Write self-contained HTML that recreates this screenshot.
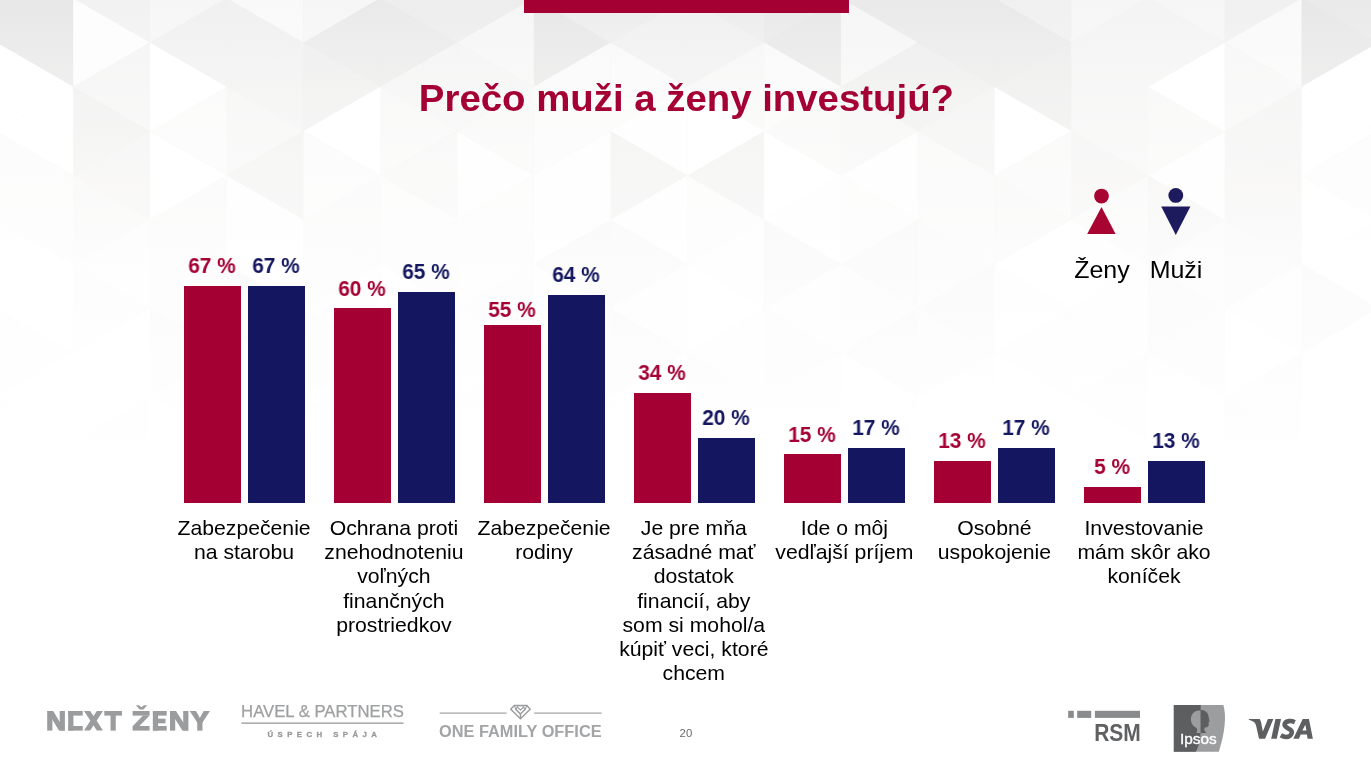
<!DOCTYPE html>
<html><head><meta charset="utf-8">
<style>
html,body{margin:0;padding:0;}
html{overflow:hidden;width:1371px;height:769px;}
body{width:1371px;height:769px;overflow:hidden;position:relative;background:#fff;font-family:"Liberation Sans",sans-serif;}
#bg{position:absolute;left:0;top:0;width:1371px;height:769px;}
.topbar{position:absolute;left:523.5px;top:0;width:325px;height:13px;background:#a50034;}
.title{position:absolute;left:0;width:1371px;top:77px;text-align:center;font-weight:bold;font-size:37px;line-height:44px;color:#a50034;white-space:nowrap;transform:scaleX(1.037);transform-origin:686.5px 0;margin-left:1.2px;}
.title,.val,.cat,.leg,#fg{will-change:transform;}
.bar{position:absolute;width:57px;}
.r{background:#a50034;}
.b{background:#14165f;}
.val{position:absolute;width:100px;text-align:center;font-weight:bold;font-size:21.3px;line-height:24px;white-space:nowrap;transform:scaleX(0.98);}
.val.r{background:none;color:#a50034;}
.val.b{background:none;color:#14165f;}
.cat{position:absolute;width:180px;text-align:center;font-size:20.4px;line-height:24.2px;color:#000;top:515.5px;white-space:nowrap;}
.cat span{display:inline-block;transform:scaleX(1.04);transform-origin:50% 0;}
.leg{position:absolute;font-size:24px;line-height:28px;color:#000;text-align:center;width:100px;white-space:nowrap;transform:scaleX(1.04);}
#fg{position:absolute;left:0;top:0;width:1371px;height:769px;}
</style></head><body>
<svg id="bg" viewBox="0 0 1371 769">
<defs><linearGradient id="g" x1="0" y1="0" x2="0" y2="1">
<stop offset="0" stop-color="#e7e7e7"/><stop offset="0.052" stop-color="#ebebeb"/><stop offset="0.13" stop-color="#f0f0ef"/><stop offset="0.195" stop-color="#f3f3f2"/><stop offset="0.26" stop-color="#f6f5f4"/><stop offset="0.325" stop-color="#f8f8f8"/><stop offset="0.39" stop-color="#fafafa"/><stop offset="0.52" stop-color="#fdfdfd"/><stop offset="0.6" stop-color="#ffffff"/><stop offset="1" stop-color="#ffffff"/>
</linearGradient></defs>
<rect width="1371" height="769" fill="url(#g)"/>
<g fill="#fff"><polygon points="-3.6,-46.2 -3.6,42.5 -80.3,-1.8" fill-opacity="0.72"/>
<polygon points="-3.6,42.5 -3.6,131.2 -80.3,86.8" fill-opacity="0.83"/>
<polygon points="-3.6,131.2 -3.6,219.8 -80.3,175.5" fill-opacity="0.52"/>
<polygon points="-3.6,219.8 -3.6,308.5 -80.3,264.1" fill-opacity="0.88"/>
<polygon points="-3.6,308.5 -3.6,397.1 -80.3,352.8" fill-opacity="0.59"/>
<polygon points="-3.6,397.1 -3.6,485.8 -80.3,441.4" fill-opacity="0.70"/>
<polygon points="-3.6,42.5 -3.6,131.2 73.2,86.8" fill-opacity="1.00"/>
<polygon points="73.2,86.8 73.2,175.5 -3.6,131.1" fill-opacity="1.00"/>
<polygon points="-3.6,131.2 -3.6,219.8 73.2,175.5" fill-opacity="0.75"/>
<polygon points="73.2,175.5 73.2,264.1 -3.6,219.8" fill-opacity="0.75"/>
<polygon points="-3.6,219.8 -3.6,308.5 73.2,264.1" fill-opacity="0.88"/>
<polygon points="73.2,264.1 73.2,352.8 -3.6,308.4" fill-opacity="0.89"/>
<polygon points="-3.6,308.5 -3.6,397.1 73.2,352.8" fill-opacity="0.61"/>
<polygon points="73.2,352.8 73.2,441.4 -3.6,397.1" fill-opacity="0.90"/>
<polygon points="-3.6,397.1 -3.6,485.8 73.2,441.4" fill-opacity="0.65"/>
<polygon points="73.2,441.4 73.2,530.1 -3.6,485.7" fill-opacity="0.88"/>
<polygon points="150.0,-46.2 150.0,42.5 73.2,-1.8" fill-opacity="0.45"/>
<polygon points="150.0,42.5 150.0,131.2 73.2,86.8" fill-opacity="0.50"/>
<polygon points="73.2,-1.8 73.2,86.8 150.0,42.5" fill-opacity="0.88"/>
<polygon points="150.0,131.2 150.0,219.8 73.2,175.5" fill-opacity="0.38"/>
<polygon points="73.2,86.8 73.2,175.5 150.0,131.1" fill-opacity="0.25"/>
<polygon points="150.0,219.8 150.0,308.5 73.2,264.1" fill-opacity="0.75"/>
<polygon points="73.2,175.5 73.2,264.1 150.0,219.8" fill-opacity="0.50"/>
<polygon points="150.0,308.5 150.0,397.1 73.2,352.8" fill-opacity="0.87"/>
<polygon points="73.2,264.1 73.2,352.8 150.0,308.4" fill-opacity="0.66"/>
<polygon points="150.0,397.1 150.0,485.8 73.2,441.4" fill-opacity="0.41"/>
<polygon points="73.2,352.8 73.2,441.4 150.0,397.1" fill-opacity="0.85"/>
<polygon points="73.2,441.4 73.2,530.1 150.0,485.7" fill-opacity="0.79"/>
<polygon points="150.0,-46.2 150.0,42.5 226.7,-1.8" fill-opacity="0.62"/>
<polygon points="226.7,-1.8 226.7,86.8 150.0,42.5" fill-opacity="0.38"/>
<polygon points="150.0,42.5 150.0,131.2 226.7,86.8" fill-opacity="1.00"/>
<polygon points="226.7,86.8 226.7,175.5 150.0,131.1" fill-opacity="0.75"/>
<polygon points="150.0,131.2 150.0,219.8 226.7,175.5" fill-opacity="1.00"/>
<polygon points="226.7,175.5 226.7,264.1 150.0,219.8" fill-opacity="0.62"/>
<polygon points="150.0,219.8 150.0,308.5 226.7,264.1" fill-opacity="0.62"/>
<polygon points="226.7,264.1 226.7,352.8 150.0,308.4" fill-opacity="0.53"/>
<polygon points="150.0,308.5 150.0,397.1 226.7,352.8" fill-opacity="0.33"/>
<polygon points="226.7,352.8 226.7,441.4 150.0,397.1" fill-opacity="0.56"/>
<polygon points="150.0,397.1 150.0,485.8 226.7,441.4" fill-opacity="0.68"/>
<polygon points="226.7,441.4 226.7,530.1 150.0,485.7" fill-opacity="0.31"/>
<polygon points="303.5,-46.2 303.5,42.5 226.7,-1.8" fill-opacity="0.75"/>
<polygon points="303.5,42.5 303.5,131.2 226.7,86.8" fill-opacity="0.38"/>
<polygon points="226.7,-1.8 226.7,86.8 303.5,42.5" fill-opacity="0.38"/>
<polygon points="303.5,131.2 303.5,219.8 226.7,175.5" fill-opacity="0.25"/>
<polygon points="226.7,86.8 226.7,175.5 303.5,131.1" fill-opacity="0.50"/>
<polygon points="303.5,219.8 303.5,308.5 226.7,264.1" fill-opacity="0.88"/>
<polygon points="226.7,175.5 226.7,264.1 303.5,219.8" fill-opacity="0.88"/>
<polygon points="303.5,308.5 303.5,397.1 226.7,352.8" fill-opacity="0.90"/>
<polygon points="226.7,264.1 226.7,352.8 303.5,308.4" fill-opacity="0.39"/>
<polygon points="303.5,397.1 303.5,485.8 226.7,441.4" fill-opacity="0.74"/>
<polygon points="226.7,352.8 226.7,441.4 303.5,397.1" fill-opacity="0.83"/>
<polygon points="226.7,441.4 226.7,530.1 303.5,485.7" fill-opacity="0.85"/>
<polygon points="303.5,-46.2 303.5,42.5 380.3,-1.8" fill-opacity="0.62"/>
<polygon points="380.3,-1.8 380.3,86.8 303.5,42.5" fill-opacity="0.12"/>
<polygon points="303.5,42.5 303.5,131.2 380.3,86.8" fill-opacity="0.25"/>
<polygon points="380.3,86.8 380.3,175.5 303.5,131.1" fill-opacity="1.00"/>
<polygon points="303.5,131.2 303.5,219.8 380.3,175.5" fill-opacity="0.75"/>
<polygon points="380.3,175.5 380.3,264.1 303.5,219.8" fill-opacity="0.62"/>
<polygon points="303.5,219.8 303.5,308.5 380.3,264.1" fill-opacity="0.62"/>
<polygon points="380.3,264.1 380.3,352.8 303.5,308.4" fill-opacity="0.73"/>
<polygon points="303.5,308.5 303.5,397.1 380.3,352.8" fill-opacity="0.41"/>
<polygon points="380.3,352.8 380.3,441.4 303.5,397.1" fill-opacity="0.81"/>
<polygon points="303.5,397.1 303.5,485.8 380.3,441.4" fill-opacity="0.56"/>
<polygon points="380.3,441.4 380.3,530.1 303.5,485.7" fill-opacity="0.53"/>
<polygon points="457.0,-46.2 457.0,42.5 380.3,-1.8" fill-opacity="0.25"/>
<polygon points="457.0,42.5 457.0,131.2 380.3,86.8" fill-opacity="0.50"/>
<polygon points="380.3,-1.8 380.3,86.8 457.0,42.5" fill-opacity="0.12"/>
<polygon points="457.0,131.2 457.0,219.8 380.3,175.5" fill-opacity="0.50"/>
<polygon points="380.3,86.8 380.3,175.5 457.0,131.1" fill-opacity="0.62"/>
<polygon points="457.0,219.8 457.0,308.5 380.3,264.1" fill-opacity="0.69"/>
<polygon points="380.3,175.5 380.3,264.1 457.0,219.8" fill-opacity="0.75"/>
<polygon points="457.0,308.5 457.0,397.1 380.3,352.8" fill-opacity="0.58"/>
<polygon points="380.3,264.1 380.3,352.8 457.0,308.4" fill-opacity="0.89"/>
<polygon points="457.0,397.1 457.0,485.8 380.3,441.4" fill-opacity="0.89"/>
<polygon points="380.3,352.8 380.3,441.4 457.0,397.1" fill-opacity="0.80"/>
<polygon points="380.3,441.4 380.3,530.1 457.0,485.7" fill-opacity="0.50"/>
<polygon points="457.1,-46.2 457.1,42.5 533.8,-1.8" fill-opacity="0.25"/>
<polygon points="533.8,-1.8 533.8,86.8 457.1,42.5" fill-opacity="0.62"/>
<polygon points="457.1,42.5 457.1,131.2 533.8,86.8" fill-opacity="0.50"/>
<polygon points="533.8,86.8 533.8,175.5 457.1,131.1" fill-opacity="0.62"/>
<polygon points="457.1,131.2 457.1,219.8 533.8,175.5" fill-opacity="0.88"/>
<polygon points="533.8,175.5 533.8,264.1 457.1,219.8" fill-opacity="0.75"/>
<polygon points="457.1,219.8 457.1,308.5 533.8,264.1" fill-opacity="0.75"/>
<polygon points="533.8,264.1 533.8,352.8 457.1,308.4" fill-opacity="0.66"/>
<polygon points="457.1,308.5 457.1,397.1 533.8,352.8" fill-opacity="0.73"/>
<polygon points="533.8,352.8 533.8,441.4 457.1,397.1" fill-opacity="0.56"/>
<polygon points="457.1,397.1 457.1,485.8 533.8,441.4" fill-opacity="0.64"/>
<polygon points="533.8,441.4 533.8,530.1 457.1,485.7" fill-opacity="0.74"/>
<polygon points="610.6,-46.2 610.6,42.5 533.8,-1.8" fill-opacity="0.25"/>
<polygon points="610.6,42.5 610.6,131.2 533.8,86.8" fill-opacity="0.75"/>
<polygon points="610.6,131.2 610.6,219.8 533.8,175.5" fill-opacity="0.88"/>
<polygon points="533.8,86.8 533.8,175.5 610.6,131.1" fill-opacity="0.75"/>
<polygon points="610.6,219.8 610.6,308.5 533.8,264.1" fill-opacity="0.43"/>
<polygon points="533.8,175.5 533.8,264.1 610.6,219.8" fill-opacity="0.88"/>
<polygon points="610.6,308.5 610.6,397.1 533.8,352.8" fill-opacity="0.49"/>
<polygon points="533.8,264.1 533.8,352.8 610.6,308.4" fill-opacity="0.77"/>
<polygon points="610.6,397.1 610.6,485.8 533.8,441.4" fill-opacity="0.57"/>
<polygon points="533.8,352.8 533.8,441.4 610.6,397.1" fill-opacity="0.60"/>
<polygon points="533.8,441.4 533.8,530.1 610.6,485.7" fill-opacity="0.38"/>
<polygon points="610.6,-46.2 610.6,42.5 687.4,-1.8" fill-opacity="0.25"/>
<polygon points="687.4,-1.8 687.4,86.8 610.6,42.5" fill-opacity="0.38"/>
<polygon points="610.6,42.5 610.6,131.2 687.4,86.8" fill-opacity="0.75"/>
<polygon points="687.4,86.8 687.4,175.5 610.6,131.1" fill-opacity="0.88"/>
<polygon points="610.6,131.2 610.6,219.8 687.4,175.5" fill-opacity="0.25"/>
<polygon points="687.4,175.5 687.4,264.1 610.6,219.8" fill-opacity="0.88"/>
<polygon points="610.6,219.8 610.6,308.5 687.4,264.1" fill-opacity="0.47"/>
<polygon points="687.4,264.1 687.4,352.8 610.6,308.4" fill-opacity="0.75"/>
<polygon points="610.6,308.5 610.6,397.1 687.4,352.8" fill-opacity="0.31"/>
<polygon points="687.4,352.8 687.4,441.4 610.6,397.1" fill-opacity="0.85"/>
<polygon points="610.6,397.1 610.6,485.8 687.4,441.4" fill-opacity="0.66"/>
<polygon points="687.4,441.4 687.4,530.1 610.6,485.7" fill-opacity="0.45"/>
<polygon points="764.1,-46.2 764.1,42.5 687.4,-1.8" fill-opacity="0.25"/>
<polygon points="764.1,42.5 764.1,131.2 687.4,86.8" fill-opacity="0.62"/>
<polygon points="687.4,-1.8 687.4,86.8 764.1,42.5" fill-opacity="0.38"/>
<polygon points="764.1,131.2 764.1,219.8 687.4,175.5" fill-opacity="0.25"/>
<polygon points="687.4,86.8 687.4,175.5 764.1,131.1" fill-opacity="1.00"/>
<polygon points="764.1,219.8 764.1,308.5 687.4,264.1" fill-opacity="0.83"/>
<polygon points="687.4,175.5 687.4,264.1 764.1,219.8" fill-opacity="0.75"/>
<polygon points="764.1,308.5 764.1,397.1 687.4,352.8" fill-opacity="0.62"/>
<polygon points="687.4,264.1 687.4,352.8 764.1,308.4" fill-opacity="0.90"/>
<polygon points="764.1,397.1 764.1,485.8 687.4,441.4" fill-opacity="0.51"/>
<polygon points="687.4,352.8 687.4,441.4 764.1,397.1" fill-opacity="0.45"/>
<polygon points="687.4,441.4 687.4,530.1 764.1,485.7" fill-opacity="0.57"/>
<polygon points="764.1,-46.2 764.1,42.5 840.9,-1.8" fill-opacity="0.12"/>
<polygon points="764.1,42.5 764.1,131.2 840.9,86.8" fill-opacity="0.75"/>
<polygon points="840.9,86.8 840.9,175.5 764.1,131.1" fill-opacity="0.62"/>
<polygon points="764.1,131.2 764.1,219.8 840.9,175.5" fill-opacity="1.00"/>
<polygon points="840.9,175.5 840.9,264.1 764.1,219.8" fill-opacity="0.88"/>
<polygon points="764.1,219.8 764.1,308.5 840.9,264.1" fill-opacity="0.38"/>
<polygon points="840.9,264.1 840.9,352.8 764.1,308.4" fill-opacity="0.73"/>
<polygon points="764.1,308.5 764.1,397.1 840.9,352.8" fill-opacity="0.49"/>
<polygon points="840.9,352.8 840.9,441.4 764.1,397.1" fill-opacity="0.55"/>
<polygon points="764.1,397.1 764.1,485.8 840.9,441.4" fill-opacity="0.56"/>
<polygon points="840.9,441.4 840.9,530.1 764.1,485.7" fill-opacity="0.64"/>
<polygon points="917.7,-46.2 917.7,42.5 840.9,-1.8" fill-opacity="0.12"/>
<polygon points="917.7,42.5 917.7,131.2 840.9,86.8" fill-opacity="0.25"/>
<polygon points="840.9,-1.8 840.9,86.8 917.7,42.5" fill-opacity="0.62"/>
<polygon points="917.7,131.2 917.7,219.8 840.9,175.5" fill-opacity="0.88"/>
<polygon points="840.9,86.8 840.9,175.5 917.7,131.1" fill-opacity="0.50"/>
<polygon points="917.7,219.8 917.7,308.5 840.9,264.1" fill-opacity="0.40"/>
<polygon points="840.9,175.5 840.9,264.1 917.7,219.8" fill-opacity="0.75"/>
<polygon points="917.7,308.5 917.7,397.1 840.9,352.8" fill-opacity="0.33"/>
<polygon points="840.9,264.1 840.9,352.8 917.7,308.4" fill-opacity="0.63"/>
<polygon points="917.7,397.1 917.7,485.8 840.9,441.4" fill-opacity="0.51"/>
<polygon points="840.9,352.8 840.9,441.4 917.7,397.1" fill-opacity="0.89"/>
<polygon points="840.9,441.4 840.9,530.1 917.7,485.7" fill-opacity="0.49"/>
<polygon points="917.7,-46.2 917.7,42.5 994.4,-1.8" fill-opacity="0.12"/>
<polygon points="994.4,-1.8 994.4,86.8 917.7,42.5" fill-opacity="0.12"/>
<polygon points="917.7,42.5 917.7,131.2 994.4,86.8" fill-opacity="0.25"/>
<polygon points="994.4,86.8 994.4,175.5 917.7,131.1" fill-opacity="0.38"/>
<polygon points="917.7,131.2 917.7,219.8 994.4,175.5" fill-opacity="0.62"/>
<polygon points="994.4,175.5 994.4,264.1 917.7,219.8" fill-opacity="0.62"/>
<polygon points="917.7,219.8 917.7,308.5 994.4,264.1" fill-opacity="0.52"/>
<polygon points="994.4,264.1 994.4,352.8 917.7,308.4" fill-opacity="0.30"/>
<polygon points="917.7,308.5 917.7,397.1 994.4,352.8" fill-opacity="0.41"/>
<polygon points="994.4,352.8 994.4,441.4 917.7,397.1" fill-opacity="0.75"/>
<polygon points="917.7,397.1 917.7,485.8 994.4,441.4" fill-opacity="0.68"/>
<polygon points="994.4,441.4 994.4,530.1 917.7,485.7" fill-opacity="0.51"/>
<polygon points="1071.2,-46.2 1071.2,42.5 994.4,-1.8" fill-opacity="0.38"/>
<polygon points="1071.2,42.5 1071.2,131.2 994.4,86.8" fill-opacity="0.18"/>
<polygon points="994.4,-1.8 994.4,86.8 1071.2,42.5" fill-opacity="0.12"/>
<polygon points="1071.2,131.2 1071.2,219.8 994.4,175.5" fill-opacity="0.62"/>
<polygon points="994.4,86.8 994.4,175.5 1071.2,131.1" fill-opacity="1.00"/>
<polygon points="1071.2,219.8 1071.2,308.5 994.4,264.1" fill-opacity="0.91"/>
<polygon points="994.4,175.5 994.4,264.1 1071.2,219.8" fill-opacity="0.50"/>
<polygon points="1071.2,308.5 1071.2,397.1 994.4,352.8" fill-opacity="0.64"/>
<polygon points="994.4,264.1 994.4,352.8 1071.2,308.4" fill-opacity="0.82"/>
<polygon points="1071.2,397.1 1071.2,485.8 994.4,441.4" fill-opacity="0.85"/>
<polygon points="994.4,352.8 994.4,441.4 1071.2,397.1" fill-opacity="0.89"/>
<polygon points="994.4,441.4 994.4,530.1 1071.2,485.7" fill-opacity="0.44"/>
<polygon points="1071.2,-46.2 1071.2,42.5 1148.0,-1.8" fill-opacity="0.62"/>
<polygon points="1148.0,-1.8 1148.0,86.8 1071.2,42.5" fill-opacity="0.50"/>
<polygon points="1071.2,42.5 1071.2,131.2 1148.0,86.8" fill-opacity="0.50"/>
<polygon points="1148.0,86.8 1148.0,175.5 1071.2,131.1" fill-opacity="0.50"/>
<polygon points="1071.2,131.2 1071.2,219.8 1148.0,175.5" fill-opacity="0.38"/>
<polygon points="1148.0,175.5 1148.0,264.1 1071.2,219.8" fill-opacity="0.62"/>
<polygon points="1071.2,219.8 1071.2,308.5 1148.0,264.1" fill-opacity="0.84"/>
<polygon points="1148.0,264.1 1148.0,352.8 1071.2,308.4" fill-opacity="0.77"/>
<polygon points="1071.2,308.5 1071.2,397.1 1148.0,352.8" fill-opacity="0.68"/>
<polygon points="1148.0,352.8 1148.0,441.4 1071.2,397.1" fill-opacity="0.38"/>
<polygon points="1071.2,397.1 1071.2,485.8 1148.0,441.4" fill-opacity="0.87"/>
<polygon points="1148.0,441.4 1148.0,530.1 1071.2,485.7" fill-opacity="0.64"/>
<polygon points="1224.8,-46.2 1224.8,42.5 1148.0,-1.8" fill-opacity="0.62"/>
<polygon points="1224.8,42.5 1224.8,131.2 1148.0,86.8" fill-opacity="1.00"/>
<polygon points="1148.0,-1.8 1148.0,86.8 1224.8,42.5" fill-opacity="0.50"/>
<polygon points="1224.8,131.2 1224.8,219.8 1148.0,175.5" fill-opacity="0.88"/>
<polygon points="1148.0,86.8 1148.0,175.5 1224.8,131.1" fill-opacity="0.62"/>
<polygon points="1224.8,219.8 1224.8,308.5 1148.0,264.1" fill-opacity="0.58"/>
<polygon points="1148.0,175.5 1148.0,264.1 1224.8,219.8" fill-opacity="0.37"/>
<polygon points="1224.8,308.5 1224.8,397.1 1148.0,352.8" fill-opacity="0.41"/>
<polygon points="1148.0,264.1 1148.0,352.8 1224.8,308.4" fill-opacity="0.39"/>
<polygon points="1224.8,397.1 1224.8,485.8 1148.0,441.4" fill-opacity="0.75"/>
<polygon points="1148.0,352.8 1148.0,441.4 1224.8,397.1" fill-opacity="0.67"/>
<polygon points="1148.0,441.4 1148.0,530.1 1224.8,485.7" fill-opacity="0.70"/>
<polygon points="1224.8,-46.2 1224.8,42.5 1301.5,-1.8" fill-opacity="0.38"/>
<polygon points="1301.5,-1.8 1301.5,86.8 1224.8,42.5" fill-opacity="0.75"/>
<polygon points="1224.8,42.5 1224.8,131.2 1301.5,86.8" fill-opacity="0.62"/>
<polygon points="1301.5,86.8 1301.5,175.5 1224.8,131.1" fill-opacity="0.38"/>
<polygon points="1224.8,131.2 1224.8,219.8 1301.5,175.5" fill-opacity="0.38"/>
<polygon points="1301.5,175.5 1301.5,264.1 1224.8,219.8" fill-opacity="0.38"/>
<polygon points="1224.8,219.8 1224.8,308.5 1301.5,264.1" fill-opacity="0.45"/>
<polygon points="1301.5,264.1 1301.5,352.8 1224.8,308.4" fill-opacity="0.75"/>
<polygon points="1224.8,308.5 1224.8,397.1 1301.5,352.8" fill-opacity="0.88"/>
<polygon points="1301.5,352.8 1301.5,441.4 1224.8,397.1" fill-opacity="0.37"/>
<polygon points="1224.8,397.1 1224.8,485.8 1301.5,441.4" fill-opacity="0.33"/>
<polygon points="1301.5,441.4 1301.5,530.1 1224.8,485.7" fill-opacity="0.83"/>
<polygon points="1378.3,-46.2 1378.3,42.5 1301.5,-1.8" fill-opacity="0.12"/>
<polygon points="1378.3,42.5 1378.3,131.2 1301.5,86.8" fill-opacity="1.00"/>
<polygon points="1378.3,131.2 1378.3,219.8 1301.5,175.5" fill-opacity="0.82"/>
<polygon points="1301.5,86.8 1301.5,175.5 1378.3,131.1" fill-opacity="1.00"/>
<polygon points="1378.3,219.8 1378.3,308.5 1301.5,264.1" fill-opacity="0.88"/>
<polygon points="1301.5,175.5 1301.5,264.1 1378.3,219.8" fill-opacity="0.93"/>
<polygon points="1378.3,308.5 1378.3,397.1 1301.5,352.8" fill-opacity="0.93"/>
<polygon points="1301.5,264.1 1301.5,352.8 1378.3,308.4" fill-opacity="0.38"/>
<polygon points="1378.3,397.1 1378.3,485.8 1301.5,441.4" fill-opacity="0.81"/>
<polygon points="1301.5,352.8 1301.5,441.4 1378.3,397.1" fill-opacity="0.78"/>
<polygon points="1301.5,441.4 1301.5,530.1 1378.3,485.7" fill-opacity="0.78"/></g>
</svg>
<div class="topbar"></div>
<div class="title">Prečo muži a ženy investujú?</div>
<div class="bar r" style="left:184px;top:285.9px;height:216.9px"></div>
<div class="val r" style="left:161.6px;top:254.2px">67 %</div>
<div class="bar b" style="left:248px;top:285.9px;height:216.9px"></div>
<div class="val b" style="left:225.6px;top:254.2px">67 %</div>
<div class="cat" style="left:153.9px"><span>Zabezpečenie<br>na starobu</span></div>
<div class="bar r" style="left:334px;top:308.0px;height:194.8px"></div>
<div class="val r" style="left:311.6px;top:277.0px">60 %</div>
<div class="bar b" style="left:398px;top:292.0px;height:210.8px"></div>
<div class="val b" style="left:375.6px;top:260.2px">65 %</div>
<div class="cat" style="left:303.9px"><span>Ochrana proti<br>znehodnoteniu<br>voľných<br>finančných<br>prostriedkov</span></div>
<div class="bar r" style="left:484px;top:325.2px;height:177.6px"></div>
<div class="val r" style="left:461.6px;top:298.1px">55 %</div>
<div class="bar b" style="left:548px;top:295.1px;height:207.7px"></div>
<div class="val b" style="left:525.6px;top:263.2px">64 %</div>
<div class="cat" style="left:453.9px"><span>Zabezpečenie<br>rodiny</span></div>
<div class="bar r" style="left:634px;top:393.1px;height:109.7px"></div>
<div class="val r" style="left:611.6px;top:361.1px">34 %</div>
<div class="bar b" style="left:698px;top:438.0px;height:64.8px"></div>
<div class="val b" style="left:675.6px;top:406.2px">20 %</div>
<div class="cat" style="left:603.9px"><span>Je pre mňa<br>zásadné mať<br>dostatok<br>financií, aby<br>som si mohol/a<br>kúpiť veci, ktoré<br>chcem</span></div>
<div class="bar r" style="left:784px;top:454.0px;height:48.8px"></div>
<div class="val r" style="left:761.6px;top:423.1px">15 %</div>
<div class="bar b" style="left:848px;top:447.9px;height:54.9px"></div>
<div class="val b" style="left:825.6px;top:416.4px">17 %</div>
<div class="cat" style="left:753.9px"><span>Ide o môj<br>vedľajší príjem</span></div>
<div class="bar r" style="left:934px;top:461.2px;height:41.6px"></div>
<div class="val r" style="left:911.6px;top:429.2px">13 %</div>
<div class="bar b" style="left:998px;top:447.9px;height:54.9px"></div>
<div class="val b" style="left:975.6px;top:416.4px">17 %</div>
<div class="cat" style="left:903.9px"><span>Osobné<br>uspokojenie</span></div>
<div class="bar r" style="left:1084px;top:487.0px;height:15.8px"></div>
<div class="val r" style="left:1061.6px;top:455.1px">5 %</div>
<div class="bar b" style="left:1148px;top:461.2px;height:41.6px"></div>
<div class="val b" style="left:1125.6px;top:429.2px">13 %</div>
<div class="cat" style="left:1053.9px"><span>Investovanie<br>mám skôr ako<br>koníček</span></div>
<div class="leg" style="left:1051.6px;top:256.4px">Ženy</div>
<div class="leg" style="left:1125.9px;top:256.4px">Muži</div>
<svg id="fg" viewBox="0 0 1371 769">
<!-- legend icons -->
<circle cx="1101.5" cy="196.1" r="7.4" fill="#a70431"/>
<polygon points="1101.5,206.9 1115.6,234 1087.2,234" fill="#a70431"/>
<circle cx="1175.8" cy="195.4" r="7.4" fill="#1d1a5d"/>
<polygon points="1161.2,206.5 1190.4,206.5 1175.8,235" fill="#1d1a5d"/>
<g fill="#9b9c9e"><rect x="47.20" y="711.00" width="5.20" height="19.60"/><rect x="59.70" y="711.00" width="5.20" height="19.60"/><polygon points="47.20,711.00 53.18,711.00 64.90,730.60 58.92,730.60"/><rect x="68.20" y="711.00" width="5.20" height="19.60"/><rect x="68.20" y="711.00" width="14.50" height="4.60"/><rect x="68.20" y="726.00" width="14.50" height="4.60"/><polygon points="84.00,711.00 90.20,711.00 103.00,730.60 96.80,730.60"/><polygon points="103.00,711.00 96.80,711.00 84.00,730.60 90.20,730.60"/><rect x="104.30" y="711.00" width="17.70" height="4.60"/><rect x="110.55" y="711.00" width="5.20" height="19.60"/><rect x="132.60" y="711.00" width="17.00" height="4.60"/><rect x="132.60" y="726.00" width="17.00" height="4.60"/><polygon points="143.00,715.40 149.60,715.40 139.20,726.20 132.60,726.20"/><polygon points="135.90,705.20 138.90,705.20 141.50,707.30 144.10,705.20 147.10,705.20 143.40,709.60 139.60,709.60"/><rect x="152.90" y="711.00" width="5.20" height="19.60"/><rect x="152.90" y="711.00" width="13.80" height="4.60"/><rect x="152.90" y="726.00" width="13.80" height="4.60"/><rect x="152.90" y="718.70" width="12.60" height="4.60"/><rect x="170.00" y="711.00" width="5.20" height="19.60"/><rect x="183.20" y="711.00" width="5.20" height="19.60"/><polygon points="170.00,711.00 175.98,711.00 188.40,730.60 182.42,730.60"/><polygon points="189.70,711.00 195.90,711.00 202.45,722.50 197.25,722.50"/><polygon points="210.00,711.00 203.80,711.00 197.25,722.50 202.45,722.50"/><polygon points="195.90,711.00 199.85,719.60 203.80,711.00 202.45,722.50 197.25,722.50"/><rect x="197.25" y="721.50" width="5.20" height="9.10"/></g>
<text x="241.1" y="716.9" font-family="Liberation Sans" font-size="16" fill="#9fa0a2" stroke="#9fa0a2" stroke-width="0.25" textLength="162.8" lengthAdjust="spacingAndGlyphs">HAVEL &amp; PARTNERS</text><rect x="241.4" y="722.4" width="162.1" height="1.5" fill="#a6a7a9"/><text x="267.4" y="737.3" font-family="Liberation Sans" font-weight="bold" font-size="7.8" fill="#98999b" stroke="#98999b" stroke-width="0.3" textLength="109.6" lengthAdjust="spacing">ÚSPECH SPÁJA</text>
<g stroke="#a3a4a6" stroke-width="1.25" fill="none"><line x1="439.7" y1="713" x2="506.6" y2="713"/><line x1="534.2" y1="713" x2="601.6" y2="713"/></g><g stroke="#9c9d9f" stroke-width="1.45" fill="none" stroke-linejoin="round" stroke-linecap="round"><polygon points="514.3,705.4 526.9,705.4 530.2,709.2 520.45,718.7 510.7,709.2"/><polyline points="515.9,709.4 520.45,714.1 525,709.4"/><line x1="520.45" y1="713.6" x2="520.45" y2="718.4"/><polyline stroke-width="1.2" points="517.9,707.6 520.45,710.1 523,707.6"/><polyline stroke-width="1.1" points="514.3,705.4 515.9,709.4 518.3,705.6"/><polyline stroke-width="1.1" points="526.9,705.4 525,709.4 522.6,705.6"/></g><text x="439" y="737.3" font-family="Liberation Sans" font-weight="bold" font-size="16.9" fill="#a3a4a6" textLength="162.6" lengthAdjust="spacingAndGlyphs">ONE FAMILY OFFICE</text>
<text x="685.9" y="737" text-anchor="middle" font-family="Liberation Sans" font-size="11.3" fill="#6a6a6a">20</text>
<g fill="#8a8b8d"><rect x="1068.2" y="710.8" width="5.6" height="7.1"/><rect x="1077.2" y="710.8" width="14" height="7.1"/><rect x="1094.9" y="710.8" width="45.1" height="7.1"/></g><text x="1094.2" y="740.9" font-family="Liberation Sans" font-weight="bold" font-size="24.6" fill="#5f6062" textLength="46.6" lengthAdjust="spacingAndGlyphs">RSM</text>
<path d="M1173.8,705.1 L1223.4,705.1 Q1228.2,722 1218.8,751.8 L1173.8,751.8 Z" fill="#9c9d9f"/><path d="M1173.8,705.1 L1200.7,705.1 L1200.7,730 Q1200.7,742 1195.9,751.8 L1173.8,751.8 Z" fill="#5d5e60"/><path d="M1200.7,710.6 C1196,709.6 1191,713 1190.9,719 C1190.8,723 1193,726 1196,727.6 C1197.5,728.6 1197.6,731 1196.4,733 L1200.7,733 Z" fill="#9c9d9f"/><path d="M1200.7,710 C1205,709.6 1208.4,712.6 1208.6,717 L1209.6,721.4 L1208.6,722 L1208.8,724.6 C1208.6,727 1206.8,727.6 1204.6,727.4 C1203.8,729.6 1204.4,731.6 1207,733 L1200.7,733 Z" fill="#5d5e60"/><text x="1180" y="744" font-family="Liberation Sans" font-size="14.9" fill="#ffffff" stroke="#ffffff" stroke-width="0.35" textLength="36.8" lengthAdjust="spacingAndGlyphs">Ipsos</text>
<g fill="#5e5f61"><polygon points="1248.86,718.98 1259.69,718.98 1261.01,721.74 1262.85,731.59 1267.90,718.98 1273.35,718.98 1265.08,738.87 1259.04,738.87 1255.95,725.02 1254.57,722.59 1252.14,720.95 1248.86,719.84"/><polygon points="1275.45,718.98 1281.03,718.98 1276.76,738.87 1271.18,738.87"/><path fill-rule="evenodd" d="M1302.69,718.98 L1308.93,718.98 L1312.87,738.87 L1307.62,738.87 L1306.83,734.41 L1300.72,734.41 L1298.89,738.87 L1293.31,738.87 Z M1305.32,724.69 L1302.36,730.60 L1306.43,730.60 Z"/></g><path d="M1294.82,722.20 C1291.86,720.76 1285.95,720.10 1284.64,724.04 C1283.98,726.66 1287.27,727.98 1289.56,729.29 C1292.52,730.93 1292.52,733.88 1289.89,735.85 C1287.27,737.50 1283.33,736.84 1280.83,735.33" fill="none" stroke="#5e5f61" stroke-width="4.6"/>
</svg>
</body></html>
